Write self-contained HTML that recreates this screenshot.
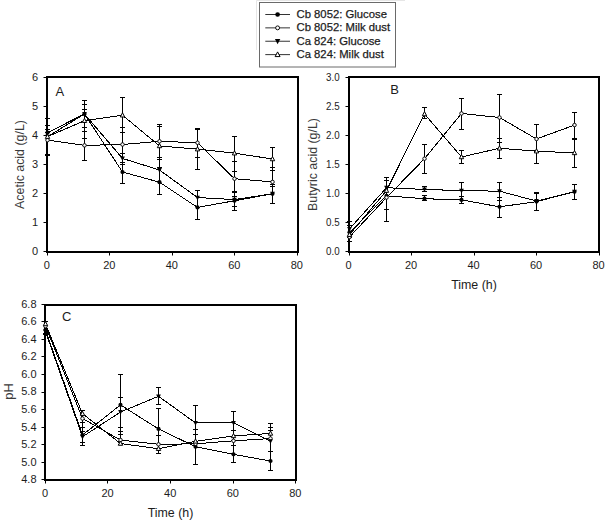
<!DOCTYPE html>
<html><head><meta charset="utf-8"><style>
html,body{margin:0;padding:0;background:#fff;}
svg{display:block;}
text{font-family:"Liberation Sans", sans-serif;}
</style></head><body>
<svg width="610" height="524" viewBox="0 0 610 524" font-family='"Liberation Sans", sans-serif' fill="#1c1c1c">
<rect width="610" height="524" fill="#fff"/>
<rect x="47.00" y="77.00" width="251.00" height="175.00" fill="none" stroke="#000" stroke-width="2"/>
<line x1="47.50" y1="154.50" x2="47.50" y2="118.50" stroke="#000" stroke-width="1"/>
<line x1="45.00" y1="118.50" x2="50.00" y2="118.50" stroke="#000" stroke-width="1"/>
<line x1="45.00" y1="125.50" x2="50.00" y2="125.50" stroke="#000" stroke-width="1"/>
<line x1="45.00" y1="129.50" x2="50.00" y2="129.50" stroke="#000" stroke-width="1"/>
<line x1="45.00" y1="132.50" x2="50.00" y2="132.50" stroke="#000" stroke-width="1"/>
<line x1="45.00" y1="154.50" x2="50.00" y2="154.50" stroke="#000" stroke-width="1"/>
<line x1="45.00" y1="155.50" x2="50.00" y2="155.50" stroke="#000" stroke-width="1"/>
<line x1="84.50" y1="160.50" x2="84.50" y2="100.50" stroke="#000" stroke-width="1"/>
<line x1="82.00" y1="100.50" x2="87.00" y2="100.50" stroke="#000" stroke-width="1"/>
<line x1="82.00" y1="104.50" x2="87.00" y2="104.50" stroke="#000" stroke-width="1"/>
<line x1="82.00" y1="109.50" x2="87.00" y2="109.50" stroke="#000" stroke-width="1"/>
<line x1="82.00" y1="127.50" x2="87.00" y2="127.50" stroke="#000" stroke-width="1"/>
<line x1="82.00" y1="131.50" x2="87.00" y2="131.50" stroke="#000" stroke-width="1"/>
<line x1="82.00" y1="138.50" x2="87.00" y2="138.50" stroke="#000" stroke-width="1"/>
<line x1="82.00" y1="160.50" x2="87.00" y2="160.50" stroke="#000" stroke-width="1"/>
<line x1="122.50" y1="183.50" x2="122.50" y2="97.50" stroke="#000" stroke-width="1"/>
<line x1="120.00" y1="97.50" x2="125.00" y2="97.50" stroke="#000" stroke-width="1"/>
<line x1="120.00" y1="127.50" x2="125.00" y2="127.50" stroke="#000" stroke-width="1"/>
<line x1="120.00" y1="132.50" x2="125.00" y2="132.50" stroke="#000" stroke-width="1"/>
<line x1="120.00" y1="153.50" x2="125.00" y2="153.50" stroke="#000" stroke-width="1"/>
<line x1="120.00" y1="162.50" x2="125.00" y2="162.50" stroke="#000" stroke-width="1"/>
<line x1="120.00" y1="164.50" x2="125.00" y2="164.50" stroke="#000" stroke-width="1"/>
<line x1="120.00" y1="183.50" x2="125.00" y2="183.50" stroke="#000" stroke-width="1"/>
<line x1="159.50" y1="194.50" x2="159.50" y2="124.50" stroke="#000" stroke-width="1"/>
<line x1="157.00" y1="124.50" x2="162.00" y2="124.50" stroke="#000" stroke-width="1"/>
<line x1="157.00" y1="126.50" x2="162.00" y2="126.50" stroke="#000" stroke-width="1"/>
<line x1="157.00" y1="157.50" x2="162.00" y2="157.50" stroke="#000" stroke-width="1"/>
<line x1="157.00" y1="159.50" x2="162.00" y2="159.50" stroke="#000" stroke-width="1"/>
<line x1="157.00" y1="167.50" x2="162.00" y2="167.50" stroke="#000" stroke-width="1"/>
<line x1="157.00" y1="194.50" x2="162.00" y2="194.50" stroke="#000" stroke-width="1"/>
<line x1="197.50" y1="169.50" x2="197.50" y2="128.50" stroke="#000" stroke-width="1"/>
<line x1="197.50" y1="219.50" x2="197.50" y2="190.50" stroke="#000" stroke-width="1"/>
<line x1="195.00" y1="157.50" x2="200.00" y2="157.50" stroke="#000" stroke-width="1"/>
<line x1="195.00" y1="169.50" x2="200.00" y2="169.50" stroke="#000" stroke-width="1"/>
<line x1="195.00" y1="190.50" x2="200.00" y2="190.50" stroke="#000" stroke-width="1"/>
<line x1="195.00" y1="219.50" x2="200.00" y2="219.50" stroke="#000" stroke-width="1"/>
<line x1="195.00" y1="128.50" x2="200.00" y2="128.50" stroke="#000" stroke-width="1"/>
<line x1="195.00" y1="129.50" x2="200.00" y2="129.50" stroke="#000" stroke-width="1"/>
<line x1="234.50" y1="210.50" x2="234.50" y2="136.50" stroke="#000" stroke-width="1"/>
<line x1="232.00" y1="136.50" x2="237.00" y2="136.50" stroke="#000" stroke-width="1"/>
<line x1="232.00" y1="161.50" x2="237.00" y2="161.50" stroke="#000" stroke-width="1"/>
<line x1="232.00" y1="171.50" x2="237.00" y2="171.50" stroke="#000" stroke-width="1"/>
<line x1="232.00" y1="196.50" x2="237.00" y2="196.50" stroke="#000" stroke-width="1"/>
<line x1="232.00" y1="206.50" x2="237.00" y2="206.50" stroke="#000" stroke-width="1"/>
<line x1="232.00" y1="210.50" x2="237.00" y2="210.50" stroke="#000" stroke-width="1"/>
<line x1="232.00" y1="191.50" x2="237.00" y2="191.50" stroke="#000" stroke-width="1"/>
<line x1="232.00" y1="192.50" x2="237.00" y2="192.50" stroke="#000" stroke-width="1"/>
<line x1="272.50" y1="203.50" x2="272.50" y2="147.50" stroke="#000" stroke-width="1"/>
<line x1="270.00" y1="147.50" x2="275.00" y2="147.50" stroke="#000" stroke-width="1"/>
<line x1="270.00" y1="167.50" x2="275.00" y2="167.50" stroke="#000" stroke-width="1"/>
<line x1="270.00" y1="170.50" x2="275.00" y2="170.50" stroke="#000" stroke-width="1"/>
<line x1="270.00" y1="184.50" x2="275.00" y2="184.50" stroke="#000" stroke-width="1"/>
<line x1="270.00" y1="186.50" x2="275.00" y2="186.50" stroke="#000" stroke-width="1"/>
<line x1="270.00" y1="203.50" x2="275.00" y2="203.50" stroke="#000" stroke-width="1"/>
<polyline points="47.50,132.60 84.50,114.04 122.50,172.04 159.50,182.19 197.50,207.42 234.50,200.75 272.50,193.79" fill="none" stroke="#000" stroke-width="1" shape-rendering="crispEdges"/>
<polyline points="47.50,140.14 84.50,145.36 122.50,144.49 159.50,141.30 197.50,142.75 234.50,178.71 272.50,181.90" fill="none" stroke="#000" stroke-width="1" shape-rendering="crispEdges"/>
<polyline points="47.50,136.66 84.50,114.04 122.50,158.41 159.50,170.01 197.50,197.56 234.50,199.59 272.50,193.79" fill="none" stroke="#000" stroke-width="1" shape-rendering="crispEdges"/>
<polyline points="47.50,136.66 84.50,120.71 122.50,115.20 159.50,145.94 197.50,149.13 234.50,153.19 272.50,158.99" fill="none" stroke="#000" stroke-width="1" shape-rendering="crispEdges"/>
<circle cx="47.50" cy="132.60" r="2.10" fill="#000"/>
<circle cx="84.50" cy="114.04" r="2.10" fill="#000"/>
<circle cx="122.50" cy="172.04" r="2.10" fill="#000"/>
<circle cx="159.50" cy="182.19" r="2.10" fill="#000"/>
<circle cx="197.50" cy="207.42" r="2.10" fill="#000"/>
<circle cx="234.50" cy="200.75" r="2.10" fill="#000"/>
<circle cx="272.50" cy="193.79" r="2.10" fill="#000"/>
<circle cx="47.50" cy="140.14" r="1.75" fill="#fff" stroke="#000" stroke-width="0.95"/>
<circle cx="84.50" cy="145.36" r="1.75" fill="#fff" stroke="#000" stroke-width="0.95"/>
<circle cx="122.50" cy="144.49" r="1.75" fill="#fff" stroke="#000" stroke-width="0.95"/>
<circle cx="159.50" cy="141.30" r="1.75" fill="#fff" stroke="#000" stroke-width="0.95"/>
<circle cx="197.50" cy="142.75" r="1.75" fill="#fff" stroke="#000" stroke-width="0.95"/>
<circle cx="234.50" cy="178.71" r="1.75" fill="#fff" stroke="#000" stroke-width="0.95"/>
<circle cx="272.50" cy="181.90" r="1.75" fill="#fff" stroke="#000" stroke-width="0.95"/>
<path d="M45.10,134.74L49.90,134.74L47.50,139.30Z" fill="#000"/>
<path d="M82.10,112.12L86.90,112.12L84.50,116.68Z" fill="#000"/>
<path d="M120.10,156.49L124.90,156.49L122.50,161.05Z" fill="#000"/>
<path d="M157.10,168.09L161.90,168.09L159.50,172.65Z" fill="#000"/>
<path d="M195.10,195.64L199.90,195.64L197.50,200.20Z" fill="#000"/>
<path d="M232.10,197.67L236.90,197.67L234.50,202.23Z" fill="#000"/>
<path d="M270.10,191.87L274.90,191.87L272.50,196.43Z" fill="#000"/>
<path d="M45.30,138.42L49.70,138.42L47.50,134.24Z" fill="#fff" stroke="#000" stroke-width="1"/>
<path d="M82.30,122.47L86.70,122.47L84.50,118.29Z" fill="#fff" stroke="#000" stroke-width="1"/>
<path d="M120.30,116.96L124.70,116.96L122.50,112.78Z" fill="#fff" stroke="#000" stroke-width="1"/>
<path d="M157.30,147.70L161.70,147.70L159.50,143.52Z" fill="#fff" stroke="#000" stroke-width="1"/>
<path d="M195.30,150.89L199.70,150.89L197.50,146.71Z" fill="#fff" stroke="#000" stroke-width="1"/>
<path d="M232.30,154.95L236.70,154.95L234.50,150.77Z" fill="#fff" stroke="#000" stroke-width="1"/>
<path d="M270.30,160.75L274.70,160.75L272.50,156.57Z" fill="#fff" stroke="#000" stroke-width="1"/>
<line x1="43.50" y1="251.50" x2="47.00" y2="251.50" stroke="#000" stroke-width="1"/>
<text x="38.20" y="255.00" font-size="11" text-anchor="end">0</text>
<line x1="43.50" y1="222.50" x2="47.00" y2="222.50" stroke="#000" stroke-width="1"/>
<text x="38.20" y="226.00" font-size="11" text-anchor="end">1</text>
<line x1="43.50" y1="193.50" x2="47.00" y2="193.50" stroke="#000" stroke-width="1"/>
<text x="38.20" y="197.00" font-size="11" text-anchor="end">2</text>
<line x1="43.50" y1="164.50" x2="47.00" y2="164.50" stroke="#000" stroke-width="1"/>
<text x="38.20" y="168.00" font-size="11" text-anchor="end">3</text>
<line x1="43.50" y1="135.50" x2="47.00" y2="135.50" stroke="#000" stroke-width="1"/>
<text x="38.20" y="139.00" font-size="11" text-anchor="end">4</text>
<line x1="43.50" y1="106.50" x2="47.00" y2="106.50" stroke="#000" stroke-width="1"/>
<text x="38.20" y="110.00" font-size="11" text-anchor="end">5</text>
<line x1="43.50" y1="77.50" x2="47.00" y2="77.50" stroke="#000" stroke-width="1"/>
<text x="38.20" y="81.00" font-size="11" text-anchor="end">6</text>
<line x1="47.50" y1="252.00" x2="47.50" y2="255.50" stroke="#000" stroke-width="1"/>
<text x="46.80" y="269.20" font-size="11" text-anchor="middle">0</text>
<line x1="109.50" y1="252.00" x2="109.50" y2="255.50" stroke="#000" stroke-width="1"/>
<text x="109.30" y="269.20" font-size="11" text-anchor="middle">20</text>
<line x1="172.50" y1="252.00" x2="172.50" y2="255.50" stroke="#000" stroke-width="1"/>
<text x="171.80" y="269.20" font-size="11" text-anchor="middle">40</text>
<line x1="234.50" y1="252.00" x2="234.50" y2="255.50" stroke="#000" stroke-width="1"/>
<text x="234.30" y="269.20" font-size="11" text-anchor="middle">60</text>
<line x1="297.50" y1="252.00" x2="297.50" y2="255.50" stroke="#000" stroke-width="1"/>
<text x="296.80" y="269.20" font-size="11" text-anchor="middle">80</text>
<text x="23.90" y="164.50" font-size="12.4" text-anchor="middle" transform="rotate(-90 23.90 164.50)" fill="#3a3a3a">Acetic acid (g/L)</text>
<text x="55.60" y="95.80" font-size="13" text-anchor="start">A</text>
<rect x="349.00" y="77.00" width="250.00" height="175.00" fill="none" stroke="#000" stroke-width="2"/>
<line x1="349.50" y1="241.50" x2="349.50" y2="221.50" stroke="#000" stroke-width="1"/>
<line x1="347.00" y1="221.50" x2="352.00" y2="221.50" stroke="#000" stroke-width="1"/>
<line x1="347.00" y1="225.50" x2="352.00" y2="225.50" stroke="#000" stroke-width="1"/>
<line x1="347.00" y1="237.50" x2="352.00" y2="237.50" stroke="#000" stroke-width="1"/>
<line x1="347.00" y1="241.50" x2="352.00" y2="241.50" stroke="#000" stroke-width="1"/>
<line x1="386.50" y1="221.50" x2="386.50" y2="177.50" stroke="#000" stroke-width="1"/>
<line x1="384.00" y1="177.50" x2="389.00" y2="177.50" stroke="#000" stroke-width="1"/>
<line x1="384.00" y1="180.50" x2="389.00" y2="180.50" stroke="#000" stroke-width="1"/>
<line x1="384.00" y1="209.50" x2="389.00" y2="209.50" stroke="#000" stroke-width="1"/>
<line x1="384.00" y1="221.50" x2="389.00" y2="221.50" stroke="#000" stroke-width="1"/>
<line x1="424.50" y1="118.50" x2="424.50" y2="107.50" stroke="#000" stroke-width="1"/>
<line x1="424.50" y1="173.50" x2="424.50" y2="144.50" stroke="#000" stroke-width="1"/>
<line x1="424.50" y1="191.50" x2="424.50" y2="186.50" stroke="#000" stroke-width="1"/>
<line x1="424.50" y1="200.50" x2="424.50" y2="195.50" stroke="#000" stroke-width="1"/>
<line x1="422.00" y1="107.50" x2="427.00" y2="107.50" stroke="#000" stroke-width="1"/>
<line x1="422.00" y1="118.50" x2="427.00" y2="118.50" stroke="#000" stroke-width="1"/>
<line x1="422.00" y1="144.50" x2="427.00" y2="144.50" stroke="#000" stroke-width="1"/>
<line x1="422.00" y1="173.50" x2="427.00" y2="173.50" stroke="#000" stroke-width="1"/>
<line x1="422.00" y1="186.50" x2="427.00" y2="186.50" stroke="#000" stroke-width="1"/>
<line x1="422.00" y1="191.50" x2="427.00" y2="191.50" stroke="#000" stroke-width="1"/>
<line x1="422.00" y1="195.50" x2="427.00" y2="195.50" stroke="#000" stroke-width="1"/>
<line x1="422.00" y1="200.50" x2="427.00" y2="200.50" stroke="#000" stroke-width="1"/>
<line x1="461.50" y1="129.50" x2="461.50" y2="98.50" stroke="#000" stroke-width="1"/>
<line x1="461.50" y1="163.50" x2="461.50" y2="150.50" stroke="#000" stroke-width="1"/>
<line x1="461.50" y1="203.50" x2="461.50" y2="182.50" stroke="#000" stroke-width="1"/>
<line x1="459.00" y1="98.50" x2="464.00" y2="98.50" stroke="#000" stroke-width="1"/>
<line x1="459.00" y1="129.50" x2="464.00" y2="129.50" stroke="#000" stroke-width="1"/>
<line x1="459.00" y1="150.50" x2="464.00" y2="150.50" stroke="#000" stroke-width="1"/>
<line x1="459.00" y1="163.50" x2="464.00" y2="163.50" stroke="#000" stroke-width="1"/>
<line x1="459.00" y1="182.50" x2="464.00" y2="182.50" stroke="#000" stroke-width="1"/>
<line x1="459.00" y1="196.50" x2="464.00" y2="196.50" stroke="#000" stroke-width="1"/>
<line x1="459.00" y1="203.50" x2="464.00" y2="203.50" stroke="#000" stroke-width="1"/>
<line x1="499.50" y1="158.50" x2="499.50" y2="94.50" stroke="#000" stroke-width="1"/>
<line x1="499.50" y1="217.50" x2="499.50" y2="182.50" stroke="#000" stroke-width="1"/>
<line x1="497.00" y1="94.50" x2="502.00" y2="94.50" stroke="#000" stroke-width="1"/>
<line x1="497.00" y1="138.50" x2="502.00" y2="138.50" stroke="#000" stroke-width="1"/>
<line x1="497.00" y1="142.50" x2="502.00" y2="142.50" stroke="#000" stroke-width="1"/>
<line x1="497.00" y1="158.50" x2="502.00" y2="158.50" stroke="#000" stroke-width="1"/>
<line x1="497.00" y1="182.50" x2="502.00" y2="182.50" stroke="#000" stroke-width="1"/>
<line x1="497.00" y1="197.50" x2="502.00" y2="197.50" stroke="#000" stroke-width="1"/>
<line x1="497.00" y1="200.50" x2="502.00" y2="200.50" stroke="#000" stroke-width="1"/>
<line x1="497.00" y1="217.50" x2="502.00" y2="217.50" stroke="#000" stroke-width="1"/>
<line x1="536.50" y1="163.50" x2="536.50" y2="124.50" stroke="#000" stroke-width="1"/>
<line x1="536.50" y1="210.50" x2="536.50" y2="192.50" stroke="#000" stroke-width="1"/>
<line x1="534.00" y1="124.50" x2="539.00" y2="124.50" stroke="#000" stroke-width="1"/>
<line x1="534.00" y1="163.50" x2="539.00" y2="163.50" stroke="#000" stroke-width="1"/>
<line x1="534.00" y1="210.50" x2="539.00" y2="210.50" stroke="#000" stroke-width="1"/>
<line x1="534.00" y1="192.50" x2="539.00" y2="192.50" stroke="#000" stroke-width="1"/>
<line x1="534.00" y1="193.50" x2="539.00" y2="193.50" stroke="#000" stroke-width="1"/>
<line x1="574.50" y1="167.50" x2="574.50" y2="112.50" stroke="#000" stroke-width="1"/>
<line x1="574.50" y1="199.50" x2="574.50" y2="184.50" stroke="#000" stroke-width="1"/>
<line x1="572.00" y1="112.50" x2="577.00" y2="112.50" stroke="#000" stroke-width="1"/>
<line x1="572.00" y1="167.50" x2="577.00" y2="167.50" stroke="#000" stroke-width="1"/>
<line x1="572.00" y1="184.50" x2="577.00" y2="184.50" stroke="#000" stroke-width="1"/>
<line x1="572.00" y1="199.50" x2="577.00" y2="199.50" stroke="#000" stroke-width="1"/>
<line x1="572.00" y1="138.50" x2="577.00" y2="138.50" stroke="#000" stroke-width="1"/>
<line x1="572.00" y1="139.50" x2="577.00" y2="139.50" stroke="#000" stroke-width="1"/>
<polyline points="349.50,232.36 386.50,195.82 424.50,198.72 461.50,199.88 499.50,206.84 536.50,201.62 574.50,191.76" fill="none" stroke="#000" stroke-width="1" shape-rendering="crispEdges"/>
<polyline points="349.50,237.00 386.50,197.56 424.50,158.70 461.50,113.46 499.50,117.52 536.50,138.98 574.50,125.06" fill="none" stroke="#000" stroke-width="1" shape-rendering="crispEdges"/>
<polyline points="349.50,228.88 386.50,187.70 424.50,189.44 461.50,190.60 499.50,191.18 536.50,201.04 574.50,191.76" fill="none" stroke="#000" stroke-width="1" shape-rendering="crispEdges"/>
<polyline points="349.50,234.68 386.50,190.60 424.50,114.04 461.50,156.96 499.50,148.26 536.50,151.16 574.50,152.90" fill="none" stroke="#000" stroke-width="1" shape-rendering="crispEdges"/>
<circle cx="349.50" cy="232.36" r="2.10" fill="#000"/>
<circle cx="386.50" cy="195.82" r="2.10" fill="#000"/>
<circle cx="424.50" cy="198.72" r="2.10" fill="#000"/>
<circle cx="461.50" cy="199.88" r="2.10" fill="#000"/>
<circle cx="499.50" cy="206.84" r="2.10" fill="#000"/>
<circle cx="536.50" cy="201.62" r="2.10" fill="#000"/>
<circle cx="574.50" cy="191.76" r="2.10" fill="#000"/>
<circle cx="349.50" cy="237.00" r="1.75" fill="#fff" stroke="#000" stroke-width="0.95"/>
<circle cx="386.50" cy="197.56" r="1.75" fill="#fff" stroke="#000" stroke-width="0.95"/>
<circle cx="424.50" cy="158.70" r="1.75" fill="#fff" stroke="#000" stroke-width="0.95"/>
<circle cx="461.50" cy="113.46" r="1.75" fill="#fff" stroke="#000" stroke-width="0.95"/>
<circle cx="499.50" cy="117.52" r="1.75" fill="#fff" stroke="#000" stroke-width="0.95"/>
<circle cx="536.50" cy="138.98" r="1.75" fill="#fff" stroke="#000" stroke-width="0.95"/>
<circle cx="574.50" cy="125.06" r="1.75" fill="#fff" stroke="#000" stroke-width="0.95"/>
<path d="M347.10,226.96L351.90,226.96L349.50,231.52Z" fill="#000"/>
<path d="M384.10,185.78L388.90,185.78L386.50,190.34Z" fill="#000"/>
<path d="M422.10,187.52L426.90,187.52L424.50,192.08Z" fill="#000"/>
<path d="M459.10,188.68L463.90,188.68L461.50,193.24Z" fill="#000"/>
<path d="M497.10,189.26L501.90,189.26L499.50,193.82Z" fill="#000"/>
<path d="M534.10,199.12L538.90,199.12L536.50,203.68Z" fill="#000"/>
<path d="M572.10,189.84L576.90,189.84L574.50,194.40Z" fill="#000"/>
<path d="M347.30,236.44L351.70,236.44L349.50,232.26Z" fill="#fff" stroke="#000" stroke-width="1"/>
<path d="M384.30,192.36L388.70,192.36L386.50,188.18Z" fill="#fff" stroke="#000" stroke-width="1"/>
<path d="M422.30,115.80L426.70,115.80L424.50,111.62Z" fill="#fff" stroke="#000" stroke-width="1"/>
<path d="M459.30,158.72L463.70,158.72L461.50,154.54Z" fill="#fff" stroke="#000" stroke-width="1"/>
<path d="M497.30,150.02L501.70,150.02L499.50,145.84Z" fill="#fff" stroke="#000" stroke-width="1"/>
<path d="M534.30,152.92L538.70,152.92L536.50,148.74Z" fill="#fff" stroke="#000" stroke-width="1"/>
<path d="M572.30,154.66L576.70,154.66L574.50,150.48Z" fill="#fff" stroke="#000" stroke-width="1"/>
<line x1="345.50" y1="251.50" x2="349.00" y2="251.50" stroke="#000" stroke-width="1"/>
<text x="339.60" y="254.90" font-size="11" text-anchor="end" textLength="13.6" lengthAdjust="spacingAndGlyphs">0.0</text>
<line x1="345.50" y1="222.50" x2="349.00" y2="222.50" stroke="#000" stroke-width="1"/>
<text x="339.60" y="225.90" font-size="11" text-anchor="end" textLength="13.6" lengthAdjust="spacingAndGlyphs">0.5</text>
<line x1="345.50" y1="193.50" x2="349.00" y2="193.50" stroke="#000" stroke-width="1"/>
<text x="339.60" y="196.90" font-size="11" text-anchor="end" textLength="13.6" lengthAdjust="spacingAndGlyphs">1.0</text>
<line x1="345.50" y1="164.50" x2="349.00" y2="164.50" stroke="#000" stroke-width="1"/>
<text x="339.60" y="167.90" font-size="11" text-anchor="end" textLength="13.6" lengthAdjust="spacingAndGlyphs">1.5</text>
<line x1="345.50" y1="135.50" x2="349.00" y2="135.50" stroke="#000" stroke-width="1"/>
<text x="339.60" y="138.90" font-size="11" text-anchor="end" textLength="13.6" lengthAdjust="spacingAndGlyphs">2.0</text>
<line x1="345.50" y1="106.50" x2="349.00" y2="106.50" stroke="#000" stroke-width="1"/>
<text x="339.60" y="109.90" font-size="11" text-anchor="end" textLength="13.6" lengthAdjust="spacingAndGlyphs">2.5</text>
<line x1="345.50" y1="77.50" x2="349.00" y2="77.50" stroke="#000" stroke-width="1"/>
<text x="339.60" y="80.90" font-size="11" text-anchor="end" textLength="13.6" lengthAdjust="spacingAndGlyphs">3.0</text>
<line x1="349.50" y1="252.00" x2="349.50" y2="255.50" stroke="#000" stroke-width="1"/>
<text x="348.60" y="269.20" font-size="11" text-anchor="middle">0</text>
<line x1="411.50" y1="252.00" x2="411.50" y2="255.50" stroke="#000" stroke-width="1"/>
<text x="411.10" y="269.20" font-size="11" text-anchor="middle">20</text>
<line x1="474.50" y1="252.00" x2="474.50" y2="255.50" stroke="#000" stroke-width="1"/>
<text x="473.60" y="269.20" font-size="11" text-anchor="middle">40</text>
<line x1="536.50" y1="252.00" x2="536.50" y2="255.50" stroke="#000" stroke-width="1"/>
<text x="536.10" y="269.20" font-size="11" text-anchor="middle">60</text>
<line x1="599.50" y1="252.00" x2="599.50" y2="255.50" stroke="#000" stroke-width="1"/>
<text x="598.60" y="269.20" font-size="11" text-anchor="middle">80</text>
<text x="474.00" y="289.30" font-size="12.4" text-anchor="middle">Time (h)</text>
<text x="316.70" y="164.50" font-size="12.4" text-anchor="middle" transform="rotate(-90 316.70 164.50)" fill="#3a3a3a">Butyric acid (g/L)</text>
<text x="390.30" y="94.30" font-size="13" text-anchor="start">B</text>
<rect x="45.00" y="305.00" width="251.00" height="175.00" fill="none" stroke="#000" stroke-width="2"/>
<line x1="45.50" y1="334.50" x2="45.50" y2="320.50" stroke="#000" stroke-width="1"/>
<line x1="43.00" y1="321.50" x2="48.00" y2="321.50" stroke="#000" stroke-width="1"/>
<line x1="43.00" y1="333.50" x2="48.00" y2="333.50" stroke="#000" stroke-width="1"/>
<line x1="43.00" y1="334.50" x2="48.00" y2="334.50" stroke="#000" stroke-width="1"/>
<line x1="82.50" y1="445.50" x2="82.50" y2="410.50" stroke="#000" stroke-width="1"/>
<line x1="80.00" y1="410.50" x2="85.00" y2="410.50" stroke="#000" stroke-width="1"/>
<line x1="80.00" y1="422.50" x2="85.00" y2="422.50" stroke="#000" stroke-width="1"/>
<line x1="80.00" y1="427.50" x2="85.00" y2="427.50" stroke="#000" stroke-width="1"/>
<line x1="80.00" y1="431.50" x2="85.00" y2="431.50" stroke="#000" stroke-width="1"/>
<line x1="80.00" y1="442.50" x2="85.00" y2="442.50" stroke="#000" stroke-width="1"/>
<line x1="80.00" y1="445.50" x2="85.00" y2="445.50" stroke="#000" stroke-width="1"/>
<line x1="120.50" y1="444.50" x2="120.50" y2="374.50" stroke="#000" stroke-width="1"/>
<line x1="118.00" y1="374.50" x2="123.00" y2="374.50" stroke="#000" stroke-width="1"/>
<line x1="118.00" y1="397.50" x2="123.00" y2="397.50" stroke="#000" stroke-width="1"/>
<line x1="118.00" y1="427.50" x2="123.00" y2="427.50" stroke="#000" stroke-width="1"/>
<line x1="118.00" y1="431.50" x2="123.00" y2="431.50" stroke="#000" stroke-width="1"/>
<line x1="118.00" y1="434.50" x2="123.00" y2="434.50" stroke="#000" stroke-width="1"/>
<line x1="118.00" y1="444.50" x2="123.00" y2="444.50" stroke="#000" stroke-width="1"/>
<line x1="158.50" y1="404.50" x2="158.50" y2="387.50" stroke="#000" stroke-width="1"/>
<line x1="158.50" y1="453.50" x2="158.50" y2="408.50" stroke="#000" stroke-width="1"/>
<line x1="156.00" y1="387.50" x2="161.00" y2="387.50" stroke="#000" stroke-width="1"/>
<line x1="156.00" y1="404.50" x2="161.00" y2="404.50" stroke="#000" stroke-width="1"/>
<line x1="156.00" y1="408.50" x2="161.00" y2="408.50" stroke="#000" stroke-width="1"/>
<line x1="156.00" y1="435.50" x2="161.00" y2="435.50" stroke="#000" stroke-width="1"/>
<line x1="156.00" y1="453.50" x2="161.00" y2="453.50" stroke="#000" stroke-width="1"/>
<line x1="195.50" y1="464.50" x2="195.50" y2="405.50" stroke="#000" stroke-width="1"/>
<line x1="193.00" y1="405.50" x2="198.00" y2="405.50" stroke="#000" stroke-width="1"/>
<line x1="193.00" y1="429.50" x2="198.00" y2="429.50" stroke="#000" stroke-width="1"/>
<line x1="193.00" y1="434.50" x2="198.00" y2="434.50" stroke="#000" stroke-width="1"/>
<line x1="193.00" y1="464.50" x2="198.00" y2="464.50" stroke="#000" stroke-width="1"/>
<line x1="233.50" y1="462.50" x2="233.50" y2="411.50" stroke="#000" stroke-width="1"/>
<line x1="231.00" y1="411.50" x2="236.00" y2="411.50" stroke="#000" stroke-width="1"/>
<line x1="231.00" y1="430.50" x2="236.00" y2="430.50" stroke="#000" stroke-width="1"/>
<line x1="231.00" y1="445.50" x2="236.00" y2="445.50" stroke="#000" stroke-width="1"/>
<line x1="231.00" y1="462.50" x2="236.00" y2="462.50" stroke="#000" stroke-width="1"/>
<line x1="270.50" y1="470.50" x2="270.50" y2="423.50" stroke="#000" stroke-width="1"/>
<line x1="268.00" y1="423.50" x2="273.00" y2="423.50" stroke="#000" stroke-width="1"/>
<line x1="268.00" y1="427.50" x2="273.00" y2="427.50" stroke="#000" stroke-width="1"/>
<line x1="268.00" y1="430.50" x2="273.00" y2="430.50" stroke="#000" stroke-width="1"/>
<line x1="268.00" y1="451.50" x2="273.00" y2="451.50" stroke="#000" stroke-width="1"/>
<line x1="268.00" y1="470.50" x2="273.00" y2="470.50" stroke="#000" stroke-width="1"/>
<polyline points="45.50,330.10 82.50,435.02 120.50,404.91 158.50,428.96 195.50,446.70 233.50,454.34 270.50,461.01" fill="none" stroke="#000" stroke-width="1" shape-rendering="crispEdges"/>
<polyline points="45.50,326.15 82.50,418.52 120.50,440.03 158.50,444.33 195.50,443.80 233.50,440.82 270.50,438.53" fill="none" stroke="#000" stroke-width="1" shape-rendering="crispEdges"/>
<polyline points="45.50,331.42 82.50,436.78 120.50,412.02 158.50,396.30 195.50,422.91 233.50,422.91 270.50,441.17" fill="none" stroke="#000" stroke-width="1" shape-rendering="crispEdges"/>
<polyline points="45.50,323.95 82.50,413.69 120.50,443.54 158.50,448.72 195.50,441.34 233.50,435.90 270.50,433.44" fill="none" stroke="#000" stroke-width="1" shape-rendering="crispEdges"/>
<circle cx="45.50" cy="330.10" r="2.10" fill="#000"/>
<circle cx="82.50" cy="435.02" r="2.10" fill="#000"/>
<circle cx="120.50" cy="404.91" r="2.10" fill="#000"/>
<circle cx="158.50" cy="428.96" r="2.10" fill="#000"/>
<circle cx="195.50" cy="446.70" r="2.10" fill="#000"/>
<circle cx="233.50" cy="454.34" r="2.10" fill="#000"/>
<circle cx="270.50" cy="461.01" r="2.10" fill="#000"/>
<circle cx="45.50" cy="326.15" r="1.75" fill="#fff" stroke="#000" stroke-width="0.95"/>
<circle cx="82.50" cy="418.52" r="1.75" fill="#fff" stroke="#000" stroke-width="0.95"/>
<circle cx="120.50" cy="440.03" r="1.75" fill="#fff" stroke="#000" stroke-width="0.95"/>
<circle cx="158.50" cy="444.33" r="1.75" fill="#fff" stroke="#000" stroke-width="0.95"/>
<circle cx="195.50" cy="443.80" r="1.75" fill="#fff" stroke="#000" stroke-width="0.95"/>
<circle cx="233.50" cy="440.82" r="1.75" fill="#fff" stroke="#000" stroke-width="0.95"/>
<circle cx="270.50" cy="438.53" r="1.75" fill="#fff" stroke="#000" stroke-width="0.95"/>
<path d="M43.10,329.50L47.90,329.50L45.50,334.06Z" fill="#000"/>
<path d="M80.10,434.86L84.90,434.86L82.50,439.42Z" fill="#000"/>
<path d="M118.10,410.10L122.90,410.10L120.50,414.66Z" fill="#000"/>
<path d="M156.10,394.38L160.90,394.38L158.50,398.94Z" fill="#000"/>
<path d="M193.10,420.99L197.90,420.99L195.50,425.55Z" fill="#000"/>
<path d="M231.10,420.99L235.90,420.99L233.50,425.55Z" fill="#000"/>
<path d="M268.10,439.25L272.90,439.25L270.50,443.81Z" fill="#000"/>
<path d="M43.30,325.71L47.70,325.71L45.50,321.53Z" fill="#fff" stroke="#000" stroke-width="1"/>
<path d="M80.30,415.45L84.70,415.45L82.50,411.27Z" fill="#fff" stroke="#000" stroke-width="1"/>
<path d="M118.30,445.30L122.70,445.30L120.50,441.12Z" fill="#fff" stroke="#000" stroke-width="1"/>
<path d="M156.30,450.48L160.70,450.48L158.50,446.30Z" fill="#fff" stroke="#000" stroke-width="1"/>
<path d="M193.30,443.10L197.70,443.10L195.50,438.92Z" fill="#fff" stroke="#000" stroke-width="1"/>
<path d="M231.30,437.66L235.70,437.66L233.50,433.48Z" fill="#fff" stroke="#000" stroke-width="1"/>
<path d="M268.30,435.20L272.70,435.20L270.50,431.02Z" fill="#fff" stroke="#000" stroke-width="1"/>
<line x1="41.50" y1="479.50" x2="45.00" y2="479.50" stroke="#000" stroke-width="1"/>
<text x="36.50" y="483.20" font-size="11" text-anchor="end">4.8</text>
<line x1="41.50" y1="462.50" x2="45.00" y2="462.50" stroke="#000" stroke-width="1"/>
<text x="36.50" y="465.64" font-size="11" text-anchor="end">5.0</text>
<line x1="41.50" y1="444.50" x2="45.00" y2="444.50" stroke="#000" stroke-width="1"/>
<text x="36.50" y="448.08" font-size="11" text-anchor="end">5.2</text>
<line x1="41.50" y1="427.50" x2="45.00" y2="427.50" stroke="#000" stroke-width="1"/>
<text x="36.50" y="430.52" font-size="11" text-anchor="end">5.4</text>
<line x1="41.50" y1="409.50" x2="45.00" y2="409.50" stroke="#000" stroke-width="1"/>
<text x="36.50" y="412.96" font-size="11" text-anchor="end">5.6</text>
<line x1="41.50" y1="392.50" x2="45.00" y2="392.50" stroke="#000" stroke-width="1"/>
<text x="36.50" y="395.40" font-size="11" text-anchor="end">5.8</text>
<line x1="41.50" y1="374.50" x2="45.00" y2="374.50" stroke="#000" stroke-width="1"/>
<text x="36.50" y="377.84" font-size="11" text-anchor="end">6.0</text>
<line x1="41.50" y1="356.50" x2="45.00" y2="356.50" stroke="#000" stroke-width="1"/>
<text x="36.50" y="360.28" font-size="11" text-anchor="end">6.2</text>
<line x1="41.50" y1="339.50" x2="45.00" y2="339.50" stroke="#000" stroke-width="1"/>
<text x="36.50" y="342.72" font-size="11" text-anchor="end">6.4</text>
<line x1="41.50" y1="321.50" x2="45.00" y2="321.50" stroke="#000" stroke-width="1"/>
<text x="36.50" y="325.16" font-size="11" text-anchor="end">6.6</text>
<line x1="41.50" y1="304.50" x2="45.00" y2="304.50" stroke="#000" stroke-width="1"/>
<text x="36.50" y="307.60" font-size="11" text-anchor="end">6.8</text>
<line x1="45.50" y1="480.00" x2="45.50" y2="483.50" stroke="#000" stroke-width="1"/>
<text x="44.98" y="497.00" font-size="11" text-anchor="middle">0</text>
<line x1="107.50" y1="480.00" x2="107.50" y2="483.50" stroke="#000" stroke-width="1"/>
<text x="107.58" y="497.00" font-size="11" text-anchor="middle">20</text>
<line x1="170.50" y1="480.00" x2="170.50" y2="483.50" stroke="#000" stroke-width="1"/>
<text x="170.18" y="497.00" font-size="11" text-anchor="middle">40</text>
<line x1="233.50" y1="480.00" x2="233.50" y2="483.50" stroke="#000" stroke-width="1"/>
<text x="232.78" y="497.00" font-size="11" text-anchor="middle">60</text>
<line x1="295.50" y1="480.00" x2="295.50" y2="483.50" stroke="#000" stroke-width="1"/>
<text x="295.38" y="497.00" font-size="11" text-anchor="middle">80</text>
<text x="170.50" y="516.70" font-size="12.4" text-anchor="middle">Time (h)</text>
<text x="12.80" y="391.50" font-size="13" text-anchor="middle" transform="rotate(-90 12.80 391.50)" fill="#3a3a3a">pH</text>
<text x="62.10" y="321.30" font-size="13" text-anchor="start">C</text>
<path d="M256.5,50V0.5H405" fill="none" stroke="#e6e6e6" stroke-width="1"/>
<rect x="259.5" y="2.5" width="136" height="64.5" fill="#fff" stroke="#6a6a6a" stroke-width="1"/>
<line x1="265.30" y1="14.50" x2="290.00" y2="14.50" stroke="#333" stroke-width="1"/>
<circle cx="277.60" cy="14.50" r="2.35" fill="#000"/>
<text x="296.50" y="18.05" font-size="11.3" text-anchor="start" stroke="#1c1c1c" stroke-width="0.25">Cb 8052: Glucose</text>
<line x1="265.30" y1="27.87" x2="290.00" y2="27.87" stroke="#333" stroke-width="1"/>
<circle cx="277.60" cy="27.87" r="1.96" fill="#fff" stroke="#000" stroke-width="0.95"/>
<text x="296.50" y="31.42" font-size="11.3" text-anchor="start" stroke="#1c1c1c" stroke-width="0.25">Cb 8052: Milk dust</text>
<line x1="265.30" y1="41.24" x2="290.00" y2="41.24" stroke="#333" stroke-width="1"/>
<path d="M274.91,39.09L280.29,39.09L277.60,44.20Z" fill="#000"/>
<text x="296.50" y="44.79" font-size="11.3" text-anchor="start" stroke="#1c1c1c" stroke-width="0.25">Ca 824: Glucose</text>
<line x1="265.30" y1="54.61" x2="290.00" y2="54.61" stroke="#333" stroke-width="1"/>
<path d="M275.14,56.58L280.06,56.58L277.60,51.90Z" fill="#fff" stroke="#000" stroke-width="1"/>
<text x="296.50" y="58.16" font-size="11.3" text-anchor="start" stroke="#1c1c1c" stroke-width="0.25">Ca 824: Milk dust</text>
</svg>
</body></html>
